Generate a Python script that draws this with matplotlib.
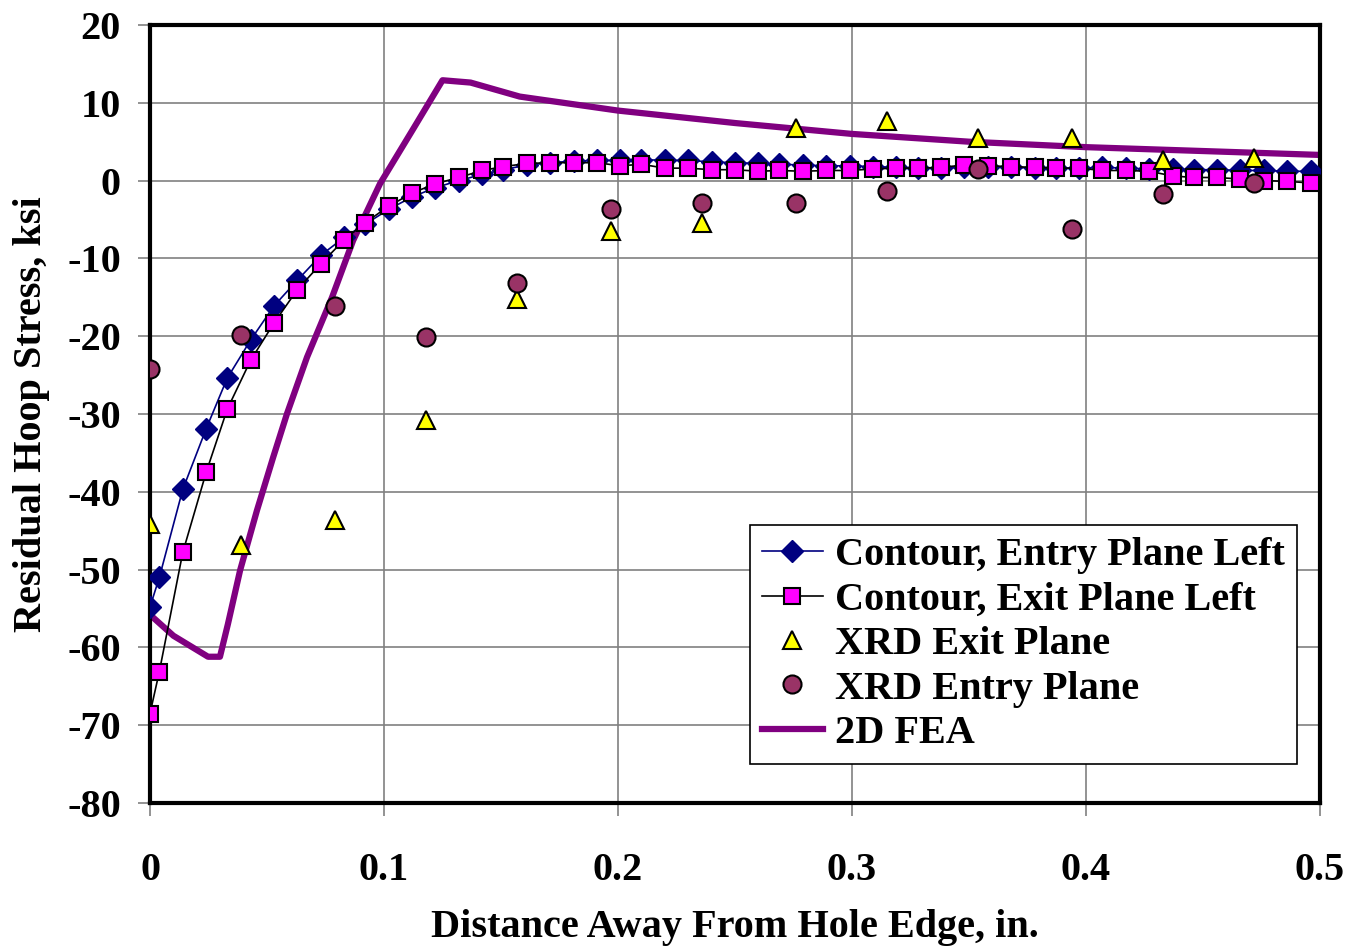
import matplotlib
matplotlib.use("Agg")
import matplotlib.pyplot as plt

plt.rcParams['font.family'] = ['Liberation Serif', 'DejaVu Serif']
plt.rcParams['font.weight'] = 'bold'
plt.rcParams['axes.unicode_minus'] = False

# contour measurements (in., ksi)
x_contour = [0.0, 0.004, 0.014, 0.024, 0.033, 0.043, 0.053, 0.063, 0.073, 0.083,
             0.092, 0.102, 0.112, 0.122, 0.132, 0.142, 0.151, 0.161, 0.171, 0.181,
             0.191, 0.201, 0.210, 0.220, 0.230, 0.240, 0.250, 0.260, 0.269, 0.279,
             0.289, 0.299, 0.309, 0.319, 0.328, 0.338, 0.348, 0.358, 0.368, 0.378,
             0.387, 0.397, 0.407, 0.417, 0.427, 0.437, 0.446, 0.456, 0.466, 0.476,
             0.486, 0.496]
entry_left = [-54.8, -51.0, -39.7, -31.9, -25.4, -20.5, -16.1, -12.8, -9.6, -7.3,
              -5.6, -3.7, -2.1, -0.9, 0.0, 0.8, 1.4, 2.0, 2.3, 2.5,
              2.6, 2.6, 2.7, 2.6, 2.6, 2.4, 2.3, 2.2, 2.1, 2.0,
              1.9, 1.9, 1.8, 1.7, 1.6, 1.6, 1.7, 1.8, 1.7, 1.6,
              1.6, 1.6, 1.7, 1.6, 1.5, 1.5, 1.4, 1.4, 1.3, 1.3,
              1.2, 1.2]
exit_left = [-68.5, -63.1, -47.8, -37.5, -29.4, -23.1, -18.3, -14.0, -10.7, -7.6,
             -5.4, -3.3, -1.6, -0.4, 0.4, 1.3, 1.8, 2.2, 2.3, 2.3,
             2.3, 1.9, 2.1, 1.6, 1.6, 1.4, 1.4, 1.2, 1.3, 1.2,
             1.3, 1.3, 1.5, 1.6, 1.6, 1.7, 2.0, 1.9, 1.8, 1.7,
             1.6, 1.6, 1.3, 1.3, 1.2, 0.6, 0.4, 0.4, 0.2, 0.0,
             -0.1, -0.3]

# x-ray diffraction
x_xrd = [0.0, 0.039, 0.079, 0.118, 0.157, 0.197, 0.236, 0.276, 0.315, 0.354, 0.394, 0.433, 0.472]
xrd_exit = [-44.1, -46.9, -43.6, -30.8, -15.2, -6.5, -5.5, 6.7, 7.7, 5.5, 5.5, 2.6, 2.9]
xrd_entry = [-24.2, -19.9, -16.1, -20.1, -13.1, -3.6, -2.9, -2.9, -1.3, 1.5, -6.2, -1.7, -0.3]

# 2D FEA
x_fea = [0.0, 0.010, 0.0248, 0.0299, 0.0333, 0.0385, 0.0457, 0.0526, 0.0585, 0.0671,
         0.0778, 0.0868, 0.0983, 0.1124, 0.125, 0.137, 0.158, 0.20, 0.25, 0.30,
         0.35, 0.40, 0.45, 0.50]
fea = [-55.8, -58.5, -61.2, -61.2, -57.0, -50.1, -42.4, -35.6, -30.0, -22.7,
       -15.0, -7.7, -0.4, 6.6, 12.9, 12.6, 10.8, 9.0, 7.4, 6.0,
       5.0, 4.3, 3.8, 3.3]

fig = plt.figure(figsize=(13.49, 9.48), dpi=100)
ax = fig.add_axes([150/1349, 1-803/948, 1170/1349, 778/948])

l_fea, = ax.plot(x_fea, fea, color='#800080', lw=4.5, zorder=2, label='2D FEA')
l_en, = ax.plot(x_contour, entry_left, color='#000080', lw=1.2, marker='D', ms=11,
                mfc='#000080', mec='#000080', zorder=3, label='Contour, Entry Plane Left')
l_ex, = ax.plot(x_contour, exit_left, color='black', lw=1.2, marker='s', ms=12,
                mfc='#FF00FF', mec='black', mew=1.5, zorder=4, label='Contour, Exit Plane Left')
l_tr, = ax.plot(x_xrd, xrd_exit, ls='none', marker='^', ms=13, mfc='#FFFF00', mec='black',
                mew=1.5, zorder=5, label='XRD Exit Plane')
l_ci, = ax.plot(x_xrd, xrd_entry, ls='none', marker='o', ms=13, mfc='#993366', mec='black',
                mew=1.5, zorder=6, label='XRD Entry Plane')

ax.set_xlim(0, 0.5)
ax.set_ylim(-80, 20)
ax.set_xticks([0, 0.1, 0.2, 0.3, 0.4, 0.5])
ax.set_xticklabels(['0', '0.1', '0.2', '0.3', '0.4', '0.5'])
ax.set_yticks(range(-80, 21, 10))
ax.grid(True, color='#808080', lw=1.2)
ax.set_axisbelow(True)
for s in ax.spines.values():
    s.set_linewidth(3)
ax.tick_params(axis='both', labelsize=29, length=9, width=1.2, color='#808080', pad=12)
ax.tick_params(axis='x', pad=26)
for t in ax.get_xticklabels() + ax.get_yticklabels():
    t.set_fontweight('bold')

fig.text(735/1349, 1-928/948, 'Distance Away From Hole Edge, in.', fontsize=29,
         fontweight='bold', ha='center', va='center')
ax.set_ylabel('Residual Hoop Stress, ksi', fontsize=29, fontweight='bold', labelpad=12)

leg = ax.legend(handles=[l_en, l_ex, l_tr, l_ci, l_fea], loc='lower right',
                bbox_to_anchor=(0.980, 0.050), fontsize=29, frameon=True, fancybox=False,
                edgecolor='black', framealpha=1, borderpad=0.3, labelspacing=0.18,
                handlelength=1.5, handletextpad=0.3, borderaxespad=0)
leg.get_frame().set_linewidth(1.2)
for t in leg.get_texts():
    t.set_fontweight('bold')

fig.savefig('out.png', dpi=100)
